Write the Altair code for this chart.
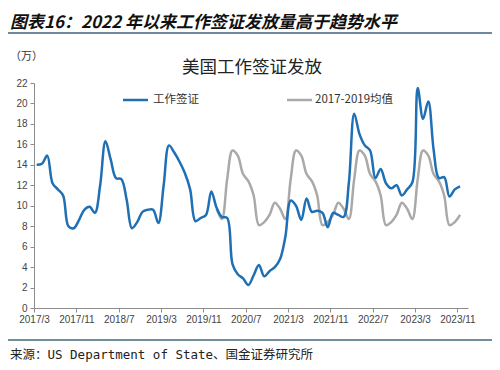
import altair as alt
import pandas as pd

# ---- data (monthly, 2017/3 .. 2023/11) ----
visa = [14.0, 14.1, 14.9, 12.2, 11.6, 11.0, 8.0, 7.8, 8.6, 9.6,
        9.9, 9.3, 12.0, 16.3, 14.5, 12.7, 12.6, 10.6, 7.8, 8.4,
        9.4, 9.6, 9.6, 8.3, 12.0, 15.9, 15.2, 14.3, 13.2, 11.6,
        8.5, 8.8, 9.1, 11.4, 9.8, 8.9, 8.8, 4.3, 3.3, 2.9,
        2.25, 3.2, 4.2, 3.1, 3.6, 4.0, 4.8, 7.0, 10.5, 10.0,
        8.6, 10.7, 9.4, 9.5, 9.3, 7.9, 9.3, 9.1, 8.9, 12.3,
        19.0, 17.0, 15.9, 15.4, 12.7, 13.6, 12.2, 11.7, 12.0, 11.0,
        11.6, 12.3, 21.5, 18.5, 20.2, 15.5, 12.7, 12.8, 10.9, 11.6,
        11.9]

# 2017-2019 average, plotted from 2020/1 to 2023/11
avg_start_index = 34
avg_1719 = [9.7, 8.7, 12.6, 15.4, 14.9, 13.1, 12.4, 11.0, 8.1, 8.4, 9.1, 10.3,
            9.7, 8.7, 12.6, 15.4, 14.9, 13.1, 12.4, 11.0, 8.1, 8.4, 9.1, 10.3,
            9.7, 8.7, 12.6, 15.4, 14.9, 13.1, 12.4, 11.0, 8.1, 8.4, 9.1, 10.3,
            9.7, 8.7, 12.6, 15.4, 14.9, 13.1, 12.4, 11.0, 8.1, 8.4, 9.1]

tick_labels = ["2017/3", "2017/11", "2018/7", "2019/3", "2019/11", "2020/7",
               "2021/3", "2021/11", "2022/7", "2023/3", "2023/11"]
tick_step = 8
y_ticks = [0, 2, 4, 6, 8, 10, 12, 14, 16, 18, 20, 22]

series_names = ["工作签证", "2017-2019均值"]

df_blue = pd.DataFrame({"t": [i + 0.5 for i in range(len(visa))], "v": visa})
df_gray = pd.DataFrame({"t": [avg_start_index + i + 0.5 for i in range(len(avg_1719))],
                        "v": avg_1719})

BLUE = "#1F6FB4"
GRAY = "#A9A9A9"
AXIS = "#8C8C8C"
W, H = 434, 225

label_expr = "[" + ",".join("'%s'" % s for s in tick_labels) + "][round(datum.value/%d)]" % tick_step

x_enc = alt.X("t:Q",
              scale=alt.Scale(domain=[0, 82], nice=False, zero=False),
              axis=alt.Axis(values=[i * tick_step for i in range(len(tick_labels))],
                            labelExpr=label_expr, title=None, grid=False,
                            labelOverlap=False, labelBound=False, labelFlush=False,
                            tickSize=4, domainColor=AXIS, tickColor=AXIS,
                            labelFont="Liberation Sans", labelFontSize=10,
                            labelColor="#444444", labelPadding=2))
y_enc = alt.Y("v:Q",
              scale=alt.Scale(domain=[0, 22], nice=False),
              axis=alt.Axis(values=y_ticks, title=None, grid=False,
                            labelOverlap=False, labelBound=False, labelFlush=False,
                            tickSize=4, domainColor=AXIS, tickColor=AXIS,
                            labelFont="Liberation Sans", labelFontSize=10,
                            labelColor="#444444", labelPadding=3))

gray_line = alt.Chart(df_gray).mark_line(
    color=GRAY, strokeWidth=2.5, interpolate="catmull-rom"
).encode(x=x_enc, y=y_enc)

blue_line = alt.Chart(df_blue).mark_line(
    color=BLUE, strokeWidth=2.5, interpolate="catmull-rom"
).encode(x=x_enc, y=y_enc)

one = pd.DataFrame({"a": [0]})


def text(s, x, y, size, font="Noto Sans CJK SC", weight="normal", align="left",
         italic=False, color="#222222"):
    return alt.Chart(one).mark_text(
        text=s, align=align, baseline="middle", fontSize=size, font=font,
        fontWeight=weight, fontStyle="italic" if italic else "normal", color=color
    ).encode(x=alt.value(x), y=alt.value(y))


def hrule(x1, x2, y, color, width):
    return alt.Chart(one).mark_rule(color=color, strokeWidth=width).encode(
        x=alt.value(x1), x2=alt.value(x2), y=alt.value(y))


header = text("图表16：2022 年以来工作签证发放量高于趋势水平", -24, -60, 17,
              weight="bold", italic=True, color="#111111")
header_rule = hrule(-34, 466, -50, "#3F5F7F", 1.5)
unit = text("（万）", -24, -26, 11, color="#333333")
chart_title = text("美国工作签证发放", 218, -15, 17.5, align="center", color="#222222")

leg_blue_rule = hrule(89, 114, 17, BLUE, 2.5)
leg_blue_text = text(series_names[0], 119, 17, 11.5, color="#333333")
leg_gray_rule = hrule(253, 278, 17, GRAY, 2.5)
leg_gray_text = text(series_names[1], 281, 17, 11.5, color="#333333")

bottom_rule = hrule(-34, 466, 257, "#3F6A78", 1.5)
source = text("来源：US Department of State、国金证券研究所", -24, 272, 12.5,
              font="DejaVu Sans Mono, Noto Sans CJK SC", color="#222222")

chart = alt.layer(
    gray_line, blue_line,
    header, header_rule, unit, chart_title,
    leg_blue_rule, leg_blue_text, leg_gray_rule, leg_gray_text,
    bottom_rule, source
).properties(
    width=W, height=H,
    autosize=alt.AutoSizeParams(type="none"),
    padding={"left": 26, "top": 75, "right": 24, "bottom": 60},
    background="white"
).configure_view(stroke=None)

chart.save("out.html", embed_options={"renderer": "svg", "actions": False})
